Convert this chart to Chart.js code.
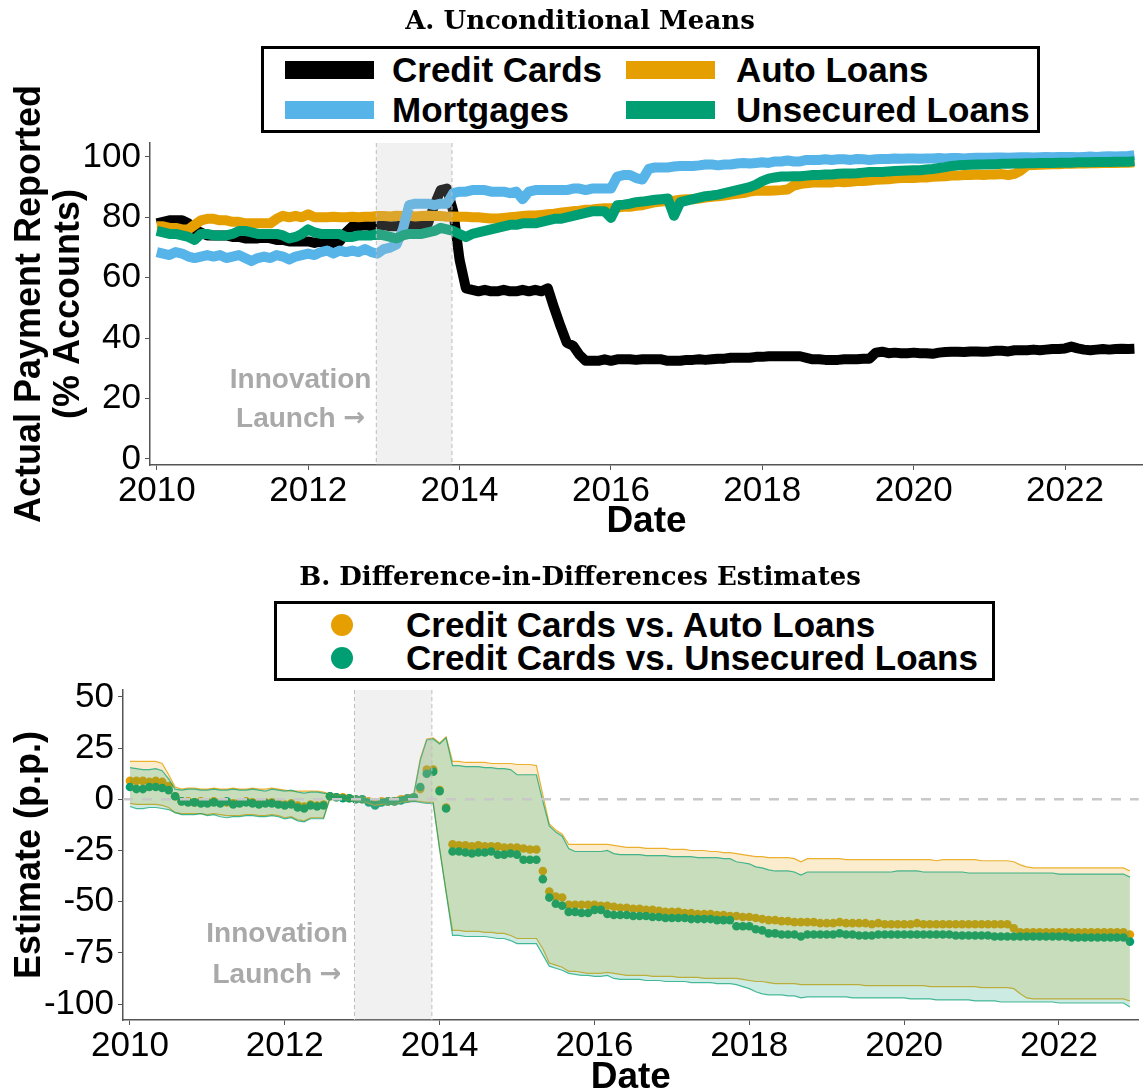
<!DOCTYPE html>
<html>
<head>
<meta charset="utf-8">
<script src="https://cdn.jsdelivr.net/npm/chart.js@4.4.1/dist/chart.umd.min.js"></script>
<style>
  body { margin: 0; background: #fff; }
  #page { position: relative; width: 1143px; height: 1091px; overflow: hidden; background: #fff;
          font-family: "Liberation Sans", Arial, sans-serif; }
  .panel { position: absolute; left: 0; width: 1143px; }
  .title { position: absolute; left: 0; width: 1160px; text-align: center; font-family: "DejaVu Serif", serif;
           font-weight: bold; font-size: 26px; color: #000; line-height: 30px; }
  .legend { position: absolute; border: 3px solid #000; background: #fff; }
  .legend .sw { position: absolute; width: 89px; height: 18px; }
  .legend .dot { position: absolute; width: 22px; height: 22px; border-radius: 50%; }
  .legend .lab { position: absolute; font-weight: bold; font-size: 35px; line-height: 40px; height: 40px;
                 white-space: nowrap; color: #000; }
</style>
</head>
<body>
<div id="page">
  <div class="panel" style="top:0;height:545px"><canvas id="chartA"></canvas></div>
  <div class="panel" style="top:545px;height:546px"><canvas id="chartB"></canvas></div>

  <div class="title" style="top:5px">A. Unconditional Means</div>
  <div class="legend" style="left:261px;top:46px;width:773px;height:81px">
    <span class="sw" style="left:21px;top:12px;background:#000"></span>
    <span class="lab" style="left:128px;top:1px">Credit Cards</span>
    <span class="sw" style="left:362px;top:12px;background:#E69F00"></span>
    <span class="lab" style="left:472px;top:1px">Auto Loans</span>
    <span class="sw" style="left:21px;top:52px;background:#56B4E9"></span>
    <span class="lab" style="left:128px;top:41px">Mortgages</span>
    <span class="sw" style="left:362px;top:52px;background:#009E73"></span>
    <span class="lab" style="left:472px;top:41px">Unsecured Loans</span>
  </div>

  <div class="title" style="top:561px">B. Difference-in-Differences Estimates</div>
  <div class="legend" style="left:274px;top:601px;width:715px;height:74px">
    <span class="dot" style="left:54px;top:10px;background:#E69F00"></span>
    <span class="lab" style="left:129px;top:1px">Credit Cards vs. Auto Loans</span>
    <span class="dot" style="left:54px;top:43px;background:#009E73"></span>
    <span class="lab" style="left:129px;top:34px">Credit Cards vs. Unsecured Loans</span>
  </div>
</div>

<script>
// monthly observations, Jan 2010 - Dec 2022
const years = [2010, 2011, 2012, 2013, 2014, 2015, 2016, 2017, 2018, 2019, 2020, 2021, 2022];
const months = years.flatMap(yr => [0, 1, 2, 3, 4, 5, 6, 7, 8, 9, 10, 11].map(m => yr + m / 12));

const xTicks = [2010, 2012, 2014, 2016, 2018, 2020, 2022];
const yTicksA = [0, 20, 40, 60, 80, 100];
const yTicksB = [-100, -75, -50, -25, 0, 25, 50];

const launchStart = 2012.9;
const launchEnd = 2013.9;

// Panel A: share of accounts with actual payment reported (%)
const creditCards = [
  78, 78.5, 79, 79, 79, 78, 76, 75, 74, 74, 74, 74,
  73.5, 73.5, 73, 73, 73, 73.5, 73, 72.5, 72.5, 72, 72, 72,
  72, 71.5, 72, 71.5, 71.5, 72, 75, 77, 77, 77.5, 77, 77,
  77.5, 77, 77, 77.5, 77, 77.5, 77, 78, 84, 89, 89.5, 82,
  66, 56.5, 56, 55.5, 56, 55.5, 55.5, 56, 55.5, 55.5, 56, 55.5,
  56, 55.5, 56.5, 50, 44, 38.5, 37.5, 34.5, 32.5, 32.5, 32.5, 33,
  32.5, 33, 33, 33, 32.8, 33, 33, 33, 33, 32.5, 32.5, 32.5,
  32.8, 32.8, 33, 32.8, 33, 33.2, 33.2, 33.5, 33.5, 33.5, 33.5, 33.8,
  33.8, 34, 34, 34, 34, 34, 34, 33.5, 33, 33, 32.8, 32.8,
  32.8, 33, 33, 33, 33.2, 33.2, 35.2, 35.5, 35, 35.2, 35, 35,
  35.2, 35, 35, 34.8, 35.2, 35.4, 35.5, 35.5, 35.4, 35.6, 35.6, 35.5,
  35.6, 35.8, 35.8, 35.6, 36, 36, 36, 36.2, 36, 36.2, 36.4, 36.4,
  36.6, 37.2, 36.6, 36.2, 36, 36.2, 36.4, 36.2, 36.4, 36.5, 36.4, 36.5
];
const mortgages = [
  68.5, 68, 67.5, 68.5, 68, 67, 66.5, 67, 67.5, 67, 67.5, 66.5,
  67, 67.5, 66.5, 65.5, 66.5, 67, 66.5, 67.5, 67, 66, 67, 67.5,
  68, 67.5, 68.5, 69, 68, 69, 68.5, 69, 68.5, 69.5, 68.5, 68,
  69.5, 70, 71, 76, 84, 84.5, 84.5, 84.5, 84, 84.5, 84.5, 88,
  88.5, 88.5, 89, 89, 89, 88.5, 88.5, 88.5, 88, 88.5, 86, 88.5,
  89, 89, 89, 89, 89, 89, 89.5, 89.5, 89, 89.5, 89.5, 89.5,
  89.5, 93.5, 94, 94, 93, 92.5, 96, 96.5, 96.5, 96.5, 96.8, 97,
  97, 97, 97.2, 97.5, 97.5, 97.2, 97.5, 97.5, 97.8, 98, 97.8, 98,
  98.2, 98, 98.5, 98.5, 98.8, 98.5, 98.5, 99, 99, 99, 99.2, 99,
  99.2, 99.2, 99, 99.3, 99.2, 99, 99.2, 99.3, 99.3, 99.5, 99.4, 99.5,
  99.5, 99.4, 99.5, 99.5, 99.6, 99.5, 99.6, 99.6, 99.5, 99.6, 99.7, 99.7,
  99.7, 99.8, 99.8, 99.7, 99.8, 99.9, 99.9, 99.8, 99.9, 100, 99.9, 100,
  100, 100, 99.9, 100, 100.1, 100, 100.1, 100.2, 100.1, 100.2, 100.3, 100.6
];
const autoLoans = [
  77, 77, 76.5, 76.5, 76, 76, 77.5, 79, 79.5, 79.5, 79, 79,
  78.5, 78.5, 78, 78, 78, 78, 78, 79.5, 80.5, 80, 80.5, 80,
  81, 80, 80, 80, 80.2, 80, 80, 80.2, 80, 80.2, 80.2, 80.4,
  80.4, 80.3, 80.5, 80.4, 80.5, 80.3, 80.4, 80.5, 80.4, 80.4, 80.2, 80.3,
  80.2, 80.2, 80, 80, 79.8, 79.6, 79.6, 79.8, 80, 80.2, 80.4, 80.6,
  80.6, 80.8, 81, 81.2, 81.5, 81.8, 82, 82.2, 82.5, 82.6, 82.8, 83,
  83, 83.2, 83.5, 83.5, 83.8, 84, 84.5, 85, 85.2, 85.5, 85.5, 85.8,
  86, 86, 86.2, 86.5, 86.8, 87, 87.2, 87.5, 87.8, 88, 88.5, 88.8,
  88.8, 88.8, 88.9, 89, 89.2, 90.5, 91, 91.3, 91.5, 91.6, 91.5, 91.5,
  91.8, 91.6, 91.8, 92, 92, 92.2, 92.4, 92.5, 92.6, 92.8, 93, 93,
  93, 93.2, 93.2, 93.4, 93.5, 93.6, 93.8, 93.8, 94, 94, 94.2, 94,
  94.2, 94.2, 94.3, 94, 94.4, 95.5, 97.2, 97.3, 97.4, 97.5, 97.6, 97.6,
  97.7, 97.7, 97.8, 97.8, 97.9, 97.9, 98, 98, 98, 98.1, 98.1, 98.2
];
const unsecuredLoans = [
  75.5, 75, 74.5, 74.5, 74, 73.5, 72.5, 74.5, 74.5, 74, 74, 74,
  74.5, 75.5, 75.5, 75, 74.5, 74.5, 74.5, 74.5, 74, 73, 73.5, 74.5,
  76, 75, 74.5, 74.5, 74.5, 74.5, 73.5, 73.5, 74, 74, 74, 74.5,
  74, 73.5, 73, 74, 74.5, 74.5, 74.5, 75, 75.5, 76.5, 76, 75.5,
  74.5, 73.5, 74.5, 75, 75.5, 76, 76.5, 77, 77.5, 77.5, 78, 78,
  78, 78.5, 79, 79.5, 79.5, 80, 80.5, 81, 81.5, 82, 82, 82,
  79.8, 84, 84.2, 84.5, 85, 85.2, 85.5, 85.8, 86, 86.2, 80.5, 85,
  85.5, 86, 86.5, 87, 87.2, 87.5, 88, 88.5, 89, 89.5, 90, 90.8,
  92, 92.8, 93.2, 93.5, 93.5, 93.6, 93.6, 93.8, 94, 94, 94.2, 94.2,
  94.4, 94.5, 94.5, 94.6, 94.8, 95, 95, 95, 95.2, 95.3, 95.4, 95.5,
  95.6, 95.6, 95.8, 96, 96.3, 96.6, 97, 97.2, 97.3, 97.4, 97.5, 97.5,
  97.6, 97.6, 97.7, 97.7, 97.8, 97.8, 97.9, 97.9, 98, 98, 98, 98.1,
  98.1, 98.1, 98.2, 98.2, 98.2, 98.3, 98.3, 98.3, 98.4, 98.4, 98.4, 98.6
];

// Panel B: difference-in-differences estimates (p.p.) and confidence bands
const ccVsAuto = [
  9, 9, 9, 8.5, 9, 8.5, 6.5, 1.5, -1, -1, -1.5, -1,
  -1.5, -1, -1.5, -1.5, -2, -1.5, -1, -1.5, -2, -1.5, -1.5, -2,
  -2.5, -2, -3, -3.5, -2.5, -3, -2.5, 1.5, 1, 1, 0.5, 0,
  0, -1, -1.5, -1, -1, -1, 0, 0.5, 1, 5, 14.5, 14.5,
  4.5, -4, -22, -22.5, -22.5, -23, -22.5, -23, -23, -23, -23.5, -23.5,
  -23.5, -24, -24.5, -24.5, -35, -45, -47.5, -48, -51.5, -51.5, -51.5, -51.5,
  -51.5, -52, -52, -52.5, -53, -53, -53.5, -53.5, -54, -54, -54.5, -55,
  -55, -55, -55.5, -55.5, -56, -56, -56, -56.5, -56.5, -57, -57, -57.5,
  -57.5, -58, -58.5, -59, -59, -59.5, -59.5, -60, -60, -60, -60, -60.5,
  -60.5, -60.5, -60, -60.5, -60.5, -60.5, -60.5, -61, -60.5, -61, -61, -61,
  -61, -61, -60.5, -61, -61, -61, -61, -61, -61, -61, -61, -61,
  -61, -61, -61, -61, -61, -63, -65, -65, -65, -65, -65, -65,
  -65, -65, -65, -65, -65, -65, -65, -65, -65, -65, -65, -66
];
const ccVsUnsecured = [
  6, 5, 5, 6, 6, 5.5, 4.5, 1.5, -1, -1.5, -1.5, -2,
  -2, -1.5, -2, -1, -2.5, -2, -1.5, -2, -2.5, -2, -2, -2.5,
  -3, -2.5, -4, -4.5, -3, -3.5, -3, 1.5, 1, 0.5, 0.5, 0,
  0, -1.5, -3, -1.5, -1, -1, -0.5, 0.5, 1, 6, 12.5, 13.5,
  4, -4.5, -25.5, -25.5, -26, -26.5, -26, -26, -25.5, -27, -27, -26.5,
  -27, -29.5, -29.5, -29.5, -39, -48, -51, -52, -55, -55, -55.5, -55.5,
  -54, -54, -56, -56.5, -56.5, -56.5, -57, -57, -57, -57.5, -57.5, -58,
  -58, -58, -58, -58.5, -58.5, -58.5, -58.5, -59, -59, -59, -62, -62,
  -62, -63.5, -64, -65.5, -65.5, -66, -66, -66, -67, -66, -66, -66,
  -66, -66, -65.5, -66, -66, -66.5, -66.5, -66.5, -66, -66, -66, -66,
  -66, -66, -66, -66, -66, -66, -66, -66, -66.5, -66.5, -66.5, -66.5,
  -66.5, -66.5, -67, -67, -67, -67, -67, -67, -67, -67, -67, -67,
  -67, -67, -67.5, -67.5, -67.5, -67.5, -67.5, -67.5, -67.5, -67.5, -67.5, -69.5
];
const autoUpper = [
  18.5, 18.5, 18.5, 18.5, 18.5, 17.5, 12, 6, 5, 5.5, 5.5, 5,
  5, 5.5, 5, 5, 5.5, 5, 5, 5.5, 5, 5, 5.5, 5,
  4.5, 4, 4, 4, 4, 4, 3.5, 2.5, 2, 2, 1.5, 1,
  1, 0.5, 0, 0.5, 0.5, 0.5, 1.5, 2, 2.5, 20, 29.5, 30,
  27.5, 30.5, 18.5, 18.5, 18, 18, 18, 18, 17.5, 17.5, 17.5, 17.5,
  17, 17, 17, 16.5, 2, -12, -15, -17, -22, -22, -22, -22,
  -22, -22, -22, -22.5, -23, -23.5, -23.5, -23.5, -24, -24, -24, -24,
  -24.5, -24.5, -24.5, -25, -25, -25, -25.5, -25.5, -26, -26, -26.5, -27,
  -27.5, -28, -28, -28.5, -28.5, -28.5, -28.5, -29, -30.5, -29, -29, -29,
  -29, -29, -29, -29.5, -29.5, -29.5, -29.5, -29.5, -29.5, -29.5, -29.5, -29.5,
  -29.5, -29.5, -29.5, -29.5, -29.5, -30, -29.5, -29.5, -29.5, -29.5, -29.5, -29.5,
  -30, -30, -30, -30, -30, -30.5, -32, -33, -33.5, -33.5, -33.5, -33.5,
  -33.5, -33.5, -33.5, -33.5, -33.5, -33.5, -33.5, -33.5, -33.5, -33.5, -33.5, -35
];
const autoLower = [
  -2, -2.5, -2.5, -2.5, -2.5, -3, -4, -6.5, -7, -7, -7, -7,
  -7.5, -7, -7.5, -8, -8, -8, -7.5, -7.5, -8, -8, -7.5, -8,
  -9, -8.5, -10, -10.5, -9, -9, -9, 0.5, 0, 0, -0.5, -1,
  -1, -2, -3, -2.5, -2.5, -2.5, -1.5, -1, -1, -1, -1.5, -1.5,
  -24, -45, -64, -64, -64.5, -64.5, -64.5, -65, -65, -65.5, -65.5, -66.5,
  -68, -68, -68, -68, -73, -80, -81, -82, -84, -84, -84.5, -85,
  -85, -85, -84.5, -85, -85.5, -86, -86, -86, -86, -86.5, -86.5, -86.5,
  -86.5, -87, -87, -87, -87, -87.5, -87.5, -87.5, -87.5, -87.5, -87.5, -88,
  -88.5, -89, -89, -89.5, -90, -90, -90, -90, -90.5, -90.5, -90.5, -90.5,
  -90.5, -90.5, -90.5, -90.5, -90.5, -90.5, -91, -91, -91, -91, -91, -91,
  -91, -91, -91, -91, -91.5, -91.5, -91.5, -91.5, -91.5, -91.5, -91.5, -91.5,
  -92, -92, -92, -92, -92, -92.5, -95, -97, -97.5, -97.5, -97.5, -97.5,
  -97.5, -97.5, -97.5, -97.5, -97.5, -97.5, -97.5, -97.5, -97.5, -97.5, -97.5, -98.5
];
const unsecuredUpper = [
  15.5, 15, 14.5, 14.5, 15, 14, 10, 5, 4.5, 5, 5, 4.5,
  4.5, 5, 4.5, 4.5, 5, 4.5, 4.5, 5, 4.5, 4, 5, 4.5,
  4, 4.5, 3.5, 3, 3.5, 3.5, 3, 2.5, 2, 2, 1.5, 1,
  1, 0, -1.5, 0, 0.5, 0.5, 1, 2, 2.5, 19, 29, 29.5,
  27, 30, 16.5, 16.5, 16, 16, 16, 15.5, 15.5, 15, 15, 14.5,
  12, 12, 12, 12, -1, -13, -16, -18, -24, -25.5, -25.5, -25.5,
  -25.5, -25.5, -25, -26.5, -27, -27, -27, -27, -27.5, -27.5, -27.5, -27.5,
  -28, -28, -28, -28, -28.5, -28.5, -28.5, -28.5, -29, -29, -30.5, -31,
  -31.5, -33, -33.5, -34.5, -35, -35, -35, -35.5, -37, -35.5, -35.5, -35.5,
  -35.5, -35.5, -35.5, -35.5, -35.5, -35.5, -35.5, -35.5, -35.5, -35.5, -35.5, -35,
  -35, -35, -35, -35.5, -35.5, -35.5, -35.5, -35.5, -35.5, -35.5, -36, -36,
  -36, -36, -36, -36, -36, -36, -36, -36, -36, -36, -36, -36,
  -36.5, -36.5, -36.5, -36.5, -36.5, -36.5, -36.5, -36.5, -36.5, -36.5, -36.5, -38
];
const unsecuredLower = [
  -3.5, -4.5, -4.5, -4, -4, -4.5, -5, -6.5, -7.5, -7.5, -7.5, -7,
  -8, -7.5, -8.5, -9, -8.5, -8.5, -8, -8, -8.5, -8.5, -8, -8.5,
  -9.5, -9, -10.5, -11, -9.5, -9.5, -9.5, 0.5, 0, 0, -0.5, -1,
  -1, -2.5, -4.5, -3, -2.5, -2.5, -2, -1.5, -1, -1.5, -2, -2,
  -24.5, -45.5, -66.5, -66.5, -67, -67, -67, -67, -67.5, -68, -68, -69,
  -70.5, -70.5, -70.5, -70.5, -76, -81.5, -82.5, -83.5, -85, -85.5, -86, -86,
  -86.5, -86.5, -86, -87.5, -88, -88, -88, -88, -88.5, -88.5, -88.5, -89,
  -89, -89, -89, -89.5, -89.5, -89.5, -89.5, -90, -90, -90, -90.5, -91.5,
  -92.5, -94, -95, -95.5, -95.5, -95.5, -96, -96, -97, -96.5, -96.5, -96.5,
  -96.5, -96.5, -96.5, -96.5, -97, -97, -97, -97, -97, -97, -97, -97,
  -97, -97.5, -97.5, -97.5, -97.5, -98, -98, -98, -98, -98, -98, -98.5,
  -98.5, -98.5, -98.5, -99, -99, -99, -99, -99, -99, -99, -99, -99,
  -99.5, -99.5, -99.5, -99.5, -99.5, -99.5, -99.5, -99.5, -99.5, -99.5, -99.5, -101.5
];

const FONT = '"Liberation Sans", Arial, sans-serif';

function series(vals) {
  return vals.map((v, i) => ({ x: months[i], y: v }));
}

// shaded launch window, dashed zero line and the "Innovation Launch" note
const launchPlugin = {
  id: 'launch',
  afterDatasetsDraw(chart, args, opts) {
    const { ctx, chartArea: a, scales: { x, y } } = chart;
    const x0 = x.getPixelForValue(launchStart);
    const x1 = x.getPixelForValue(launchEnd);
    ctx.save();
    ctx.fillStyle = 'rgba(190,190,190,0.22)';
    ctx.fillRect(x0, a.top, x1 - x0, a.bottom - a.top);
    ctx.strokeStyle = '#bdbdbd';
    ctx.lineWidth = 1;
    ctx.setLineDash([4, 3]);
    [x0, x1].forEach(px => {
      ctx.beginPath();
      ctx.moveTo(px, a.top);
      ctx.lineTo(px, a.bottom);
      ctx.stroke();
    });
    if (opts.zeroLine) {
      const y0 = y.getPixelForValue(0);
      ctx.strokeStyle = '#c8c8c8';
      ctx.lineWidth = 2.6;
      ctx.setLineDash([10, 9]);
      ctx.beginPath();
      ctx.moveTo(a.left, y0);
      ctx.lineTo(a.right, y0);
      ctx.stroke();
    }
    ctx.setLineDash([]);
    ctx.fillStyle = '#a9a9a9';
    ctx.textBaseline = 'middle';
    const cx = x.getPixelForValue(launchStart - 1);
    const font1 = 'bold 28px ' + FONT;
    const font2 = 'bold 26px "DejaVu Sans", sans-serif';
    ctx.font = font1;
    ctx.textAlign = 'center';
    ctx.fillText('Innovation', cx, y.getPixelForValue(opts.textY[0]));
    // "Launch" plus a wider arrow glyph, centred as one line
    const w1 = ctx.measureText('Launch ').width;
    ctx.font = font2;
    const w2 = ctx.measureText('\u2192').width;
    const left = cx - (w1 + w2) / 2;
    const ly = y.getPixelForValue(opts.textY[1]);
    ctx.textAlign = 'left';
    ctx.font = font1;
    ctx.fillText('Launch ', left, ly);
    ctx.font = font2;
    ctx.fillText('\u2192', left + w1, ly);
    ctx.restore();
  }
};

function xAxis(fitHeight, titlePad) {
  return {
    type: 'linear',
    min: 2009.91,
    max: 2023.03,
    afterBuildTicks: s => { s.ticks = xTicks.map(v => ({ value: v })); },
    afterFit: s => { s.height = fitHeight; },
    ticks: { callback: v => String(v), font: { size: 35, family: FONT }, color: '#000',
             padding: 0, maxRotation: 0, autoSkip: false },
    grid: { display: true, drawOnChartArea: false, drawTicks: true, tickLength: 5, color: '#555' },
    border: { display: true, color: '#555', width: 1.5 },
    title: { display: true, text: 'Date', color: '#000',
             font: { size: 37, weight: 'bold', family: FONT, lineHeight: 1 },
             padding: { top: 0, bottom: titlePad } }
  };
}

function yAxis(min, max, ticks, fitWidth, title) {
  return {
    type: 'linear',
    min: min,
    max: max,
    afterBuildTicks: s => { s.ticks = ticks.map(v => ({ value: v })); },
    afterFit: s => { s.width = fitWidth; },
    ticks: { callback: v => String(v), font: { size: 35, family: FONT }, color: '#000', padding: 4 },
    grid: { display: true, drawOnChartArea: false, drawTicks: true, tickLength: 5, color: '#555' },
    border: { display: true, color: '#555', width: 1.5 },
    title: { display: true, text: title, color: '#000',
             font: { size: 36, weight: 'bold', family: FONT, lineHeight: 1.07 },
             padding: { top: 11, bottom: 0 } }
  };
}

function lineSet(label, vals, color, order) {
  return {
    label: label,
    data: series(vals),
    borderColor: color,
    backgroundColor: color,
    borderWidth: 10,
    borderCapStyle: 'butt',
    borderJoinStyle: 'round',
    pointRadius: 0,
    tension: 0,
    fill: false,
    order: order
  };
}

new Chart(document.getElementById('chartA'), {
  type: 'line',
  data: {
    datasets: [
      lineSet('Credit Cards', creditCards, '#000000', 4),
      lineSet('Auto Loans', autoLoans, '#E69F00', 3),
      lineSet('Mortgages', mortgages, '#56B4E9', 2),
      lineSet('Unsecured Loans', unsecuredLoans, '#009E73', 1)
    ]
  },
  options: {
    responsive: true,
    maintainAspectRatio: false,
    animation: false,
    layout: { padding: { top: 143, left: 0, right: 0, bottom: 0 } },
    plugins: {
      legend: { display: false },
      tooltip: { enabled: false },
      launch: { textY: [26, 13], zeroLine: false }
    },
    scales: {
      x: xAxis(80, 5),
      y: yAxis(-2, 104.6, yTicksA, 150, ['Actual Payment Reported', '(% Accounts)'])
    }
  },
  plugins: [launchPlugin]
});

function bandSet(label, vals, line, fillColor, fill, order) {
  return {
    label: label,
    data: series(vals),
    borderColor: line,
    backgroundColor: fillColor,
    borderWidth: 1.2,
    pointRadius: 0,
    tension: 0,
    fill: fill,
    order: order
  };
}

function dotSet(label, vals, color, order) {
  return {
    label: label,
    data: series(vals),
    showLine: false,
    pointRadius: 4.3,
    pointBorderWidth: 0,
    pointBackgroundColor: color,
    backgroundColor: color,
    borderColor: color,
    order: order
  };
}

new Chart(document.getElementById('chartB'), {
  type: 'line',
  data: {
    datasets: [
      dotSet('Credit Cards vs. Auto Loans', ccVsAuto, '#E69F00', 10),
      dotSet('Credit Cards vs. Unsecured Loans', ccVsUnsecured, '#009E73', 9),
      bandSet('Auto lower', autoLower, 'rgba(230,159,0,0.8)', 'rgba(230,159,0,0.2)', false, 5),
      bandSet('Auto upper', autoUpper, 'rgba(230,159,0,0.8)', 'rgba(230,159,0,0.2)', '-1', 5),
      bandSet('Unsecured lower', unsecuredLower, 'rgba(0,158,115,0.7)', 'rgba(0,158,115,0.2)', false, 4),
      bandSet('Unsecured upper', unsecuredUpper, 'rgba(0,158,115,0.7)', 'rgba(0,158,115,0.2)', '-1', 4)
    ]
  },
  options: {
    responsive: true,
    maintainAspectRatio: false,
    animation: false,
    layout: { padding: { top: 145, left: 0, right: 0, bottom: 0 } },
    plugins: {
      legend: { display: false },
      tooltip: { enabled: false },
      launch: { textY: [-66, -86], zeroLine: true }
    },
    scales: {
      x: xAxis(71, -5),
      y: yAxis(-107.8, 53.4, yTicksB, 123, 'Estimate (p.p.)')
    }
  },
  plugins: [launchPlugin]
});
</script>
</body>
</html>
